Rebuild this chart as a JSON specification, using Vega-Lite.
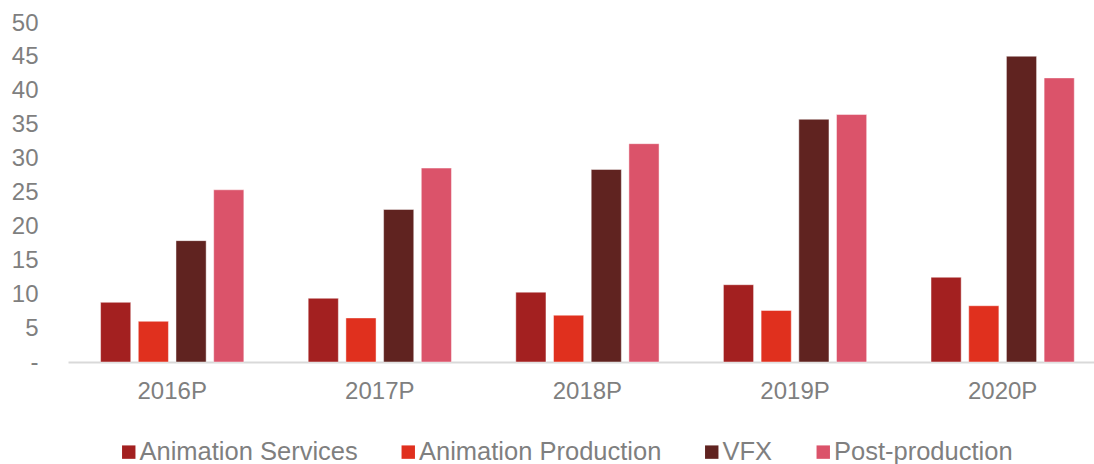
{
  "$schema": "https://vega.github.io/schema/vega-lite/v6.json",
  "autosize": {"type": "none"},
  "padding": {"left": 68, "top": 23, "right": 0, "bottom": 102},
  "width": 1026,
  "height": 339,
  "background": "white",
  "data": {"values": [
    {"year": "2016P", "segment": "Animation Services", "value": 8.8},
    {"year": "2016P", "segment": "Animation Production", "value": 6.0},
    {"year": "2016P", "segment": "VFX", "value": 17.9},
    {"year": "2016P", "segment": "Post-production", "value": 25.4},
    {"year": "2017P", "segment": "Animation Services", "value": 9.4},
    {"year": "2017P", "segment": "Animation Production", "value": 6.5},
    {"year": "2017P", "segment": "VFX", "value": 22.5},
    {"year": "2017P", "segment": "Post-production", "value": 28.6},
    {"year": "2018P", "segment": "Animation Services", "value": 10.3},
    {"year": "2018P", "segment": "Animation Production", "value": 6.9},
    {"year": "2018P", "segment": "VFX", "value": 28.4},
    {"year": "2018P", "segment": "Post-production", "value": 32.2},
    {"year": "2019P", "segment": "Animation Services", "value": 11.4},
    {"year": "2019P", "segment": "Animation Production", "value": 7.6},
    {"year": "2019P", "segment": "VFX", "value": 35.8},
    {"year": "2019P", "segment": "Post-production", "value": 36.5},
    {"year": "2020P", "segment": "Animation Services", "value": 12.5},
    {"year": "2020P", "segment": "Animation Production", "value": 8.3},
    {"year": "2020P", "segment": "VFX", "value": 45.1},
    {"year": "2020P", "segment": "Post-production", "value": 41.9}
  ]},
  "mark": {"type": "bar", "stroke": "#ffffff", "strokeOpacity": 0.45, "strokeWidth": 1},
  "encoding": {
    "x": {
      "field": "year", "type": "nominal", "title": null,
      "scale": {"paddingInner": 0.31, "paddingOuter": 0.126, "align": 0.623},
      "axis": {"labelAngle": 0, "ticks": false, "domainColor": "#d9d9d9", "domainWidth": 2, "labelPadding": 17, "labelFontSize": 24, "labelColor": "#7f7f7f", "labelFont": "Liberation Sans"}
    },
    "xOffset": {
      "field": "segment", "type": "nominal",
      "sort": ["Animation Services", "Animation Production", "VFX", "Post-production"],
      "scale": {"paddingInner": 0.2, "paddingOuter": 0}
    },
    "y": {
      "field": "value", "type": "quantitative", "title": null,
      "scale": {"domain": [0, 50], "nice": false},
      "axis": {"values": [0, 5, 10, 15, 20, 25, 30, 35, 40, 45, 50], "labelExpr": "datum.value == 0 ? '-' : datum.label", "grid": false, "domain": false, "ticks": false, "labelPadding": 30, "labelFontSize": 24, "labelColor": "#7f7f7f", "labelFont": "Liberation Sans"}
    },
    "color": {
      "field": "segment", "type": "nominal",
      "sort": ["Animation Services", "Animation Production", "VFX", "Post-production"],
      "scale": {"domain": ["Animation Services", "Animation Production", "VFX", "Post-production"], "range": ["#A32020", "#E0301E", "#602320", "#DB536A"]},
      "legend": {"title": null, "orient": "none", "direction": "horizontal", "legendX": 48, "legendY": 416, "symbolType": "square", "symbolSize": 180, "symbolStrokeWidth": 0, "labelFontSize": 25.5, "labelColor": "#7f7f7f", "labelFont": "Liberation Sans", "columnPadding": 37.5, "labelOffset": -2, "labelLimit": 400}
    }
  },
  "config": {"view": {"stroke": null}}
}
